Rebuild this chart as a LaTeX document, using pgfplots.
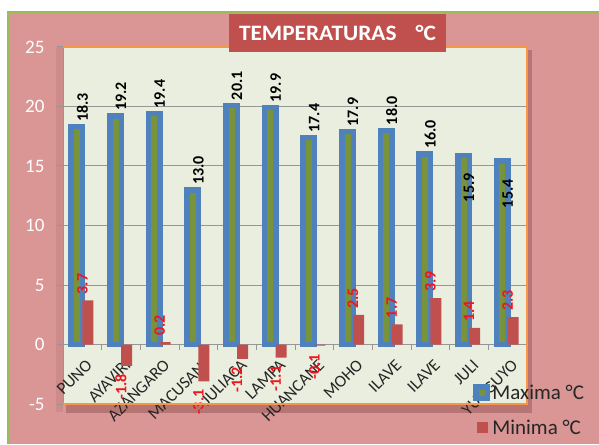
\documentclass[border=0pt]{standalone}
\usepackage{pgfplots}
\pgfplotsset{compat=1.18}
\usepackage{fontspec}
\setmainfont{Carlito}
\definecolor{bgpink}{RGB}{217,150,148}
\definecolor{shadowpink}{RGB}{182,117,116}
\definecolor{bandpink}{RGB}{205,139,138}
\definecolor{plotbg}{RGB}{234,238,222}
\definecolor{barblue}{RGB}{79,129,189}
\definecolor{barolive}{RGB}{119,147,60}
\definecolor{barred}{RGB}{192,80,77}
\definecolor{titlered}{RGB}{192,80,77}
\definecolor{frameorange}{RGB}{247,150,70}
\definecolor{gridgray}{RGB}{150,150,150}
\definecolor{framegreen}{RGB}{155,187,89}
\definecolor{textdark}{RGB}{38,38,38}
\definecolor{labred}{RGB}{240,20,30}
\begin{document}
\begin{tikzpicture}
\useasboundingbox (0pt,0pt) rectangle (599pt,444pt);
\fill[white] (0pt,0pt) rectangle (599pt,444pt);
\fill[bgpink] (8pt,0pt) rectangle (599pt,432pt);
\draw[framegreen, line width=1.2pt] (8pt,0pt) -- (8pt,432pt) -- (599pt,432pt);
\fill[shadowpink] (66pt,31pt) rectangle (532pt,394pt);
\fill[bandpink] (56pt,32pt) rectangle (63pt,397pt);
\begin{axis}[
  at={(63pt,40pt)}, anchor=south west,
  scale only axis, width=464pt, height=357pt,
  xmin=-0.5, xmax=11.5, ymin=-5, ymax=25,
  clip=false,
  axis background/.style={fill=plotbg},
  axis x line*=middle, axis y line*=left,
  hide obscured x ticks=false, hide obscured y ticks=false,
  axis line style={draw=gridgray, line width=1pt},
  xtick={0,...,11},
  xticklabels={PUNO,AYAVIRI,AZANGARO,MACUSANI,JULIACA,LAMPA,HUANCANE,MOHO,ILAVE,ILAVE,JULI,YUNGUYO},
  minor xtick={-0.5,0.5,...,11.5},
  every major x tick/.style={draw=none},
  every minor x tick/.style={draw=gridgray, line width=1pt},
  minor tick length=5pt,
  ytick={-5,0,...,25},
  every major y tick/.style={draw=gridgray, line width=1pt},
  major tick length=6pt,
  tick align=outside,
  ymajorgrids,
  grid style={draw=gridgray, line width=1pt},
  xticklabel style={xshift=3pt, yshift=-3pt, rotate=45, anchor=north east, font=\fontsize{17}{20}\selectfont, text=textdark},
  yticklabel style={font=\fontsize{19}{22}\selectfont, text=white, xshift=-9pt},
  /pgf/number format/assume math mode=true,
  legend cell align=left,
  legend style={draw=none, fill=none, at={(rel axis cs:0.884,0.06)}, anchor=north west,
    font=\fontsize{21}{24}\selectfont, text=textdark, row sep=15pt, inner sep=0pt},
  after end axis/.code={
    \draw[frameorange, line width=1.5pt] (rel axis cs:0,1) -- (rel axis cs:1,1) -- (rel axis cs:1,0) -- (rel axis cs:0,0);
  },
]
% Maxima bars
\addplot[ybar, bar width=11.5pt, bar shift=-5.5pt, fill=barolive, draw=barblue, line width=5.5pt,
  legend image code/.code={\draw[fill=barolive, draw=barblue, line width=5.5pt] (2.75pt,-5.75pt) rectangle (14.25pt,5.75pt);}]
  coordinates {(0,18.3)(1,19.2)(2,19.4)(3,13.0)(4,20.1)(5,19.9)(6,17.4)(7,17.9)(8,18.0)(9,16.0)(10,15.9)(11,15.4)};
\addlegendentry{Maxima °C}
% Minima bars
\addplot[ybar, bar width=11pt, bar shift=5.5pt, fill=barred, draw=none,
  legend image code/.code={\fill[barred] (3.5pt,-5.5pt) rectangle (14.5pt,5.5pt);}]
  coordinates {(0,3.7)(1,-1.8)(2,0.2)(3,-3.1)(4,-1.2)(5,-1.1)(6,-0.1)(7,2.5)(8,1.7)(9,3.9)(10,1.4)(11,2.3)};
\addlegendentry{Minima °C}
% labels: maxima above
\addplot[ybar, bar width=11.5pt, bar shift=-4pt, draw=none, fill=none, forget plot,
  nodes near coords={\pgfmathprintnumber[fixed,fixed zerofill,precision=1]{\pgfplotspointmeta}},
  every node near coord/.append style={yshift=3pt, rotate=90, anchor=west, text=black, font=\bfseries\fontsize{16}{19}\selectfont, inner sep=2pt}]
  coordinates {(0,18.3)(1,19.2)(2,19.4)(3,13.0)(4,20.1)(5,19.9)(6,17.4)(7,17.9)(8,18.0)(9,16.0)};
% labels: maxima inside
\addplot[ybar, bar width=11.5pt, bar shift=-4pt, draw=none, fill=none, forget plot,
  nodes near coords={\pgfmathprintnumber[fixed,fixed zerofill,precision=1]{\pgfplotspointmeta}},
  every node near coord/.append style={yshift=-16pt, rotate=90, anchor=east, text=black, font=\bfseries\fontsize{16}{19}\selectfont, inner sep=2pt}]
  coordinates {(10,15.9)(11,15.4)};
% labels: minima positive
\addplot[ybar, bar width=11pt, bar shift=7.5pt, draw=none, fill=none, forget plot,
  nodes near coords={\pgfmathprintnumber[fixed,fixed zerofill,precision=1]{\pgfplotspointmeta}},
  every node near coord/.append style={yshift=4pt, rotate=90, anchor=west, text=labred, font=\bfseries\fontsize{16}{19}\selectfont, inner sep=2pt}]
  coordinates {(0,3.7)(2,0.2)(7,2.5)(8,1.7)(9,3.9)(10,1.4)(11,2.3)};
% labels: minima negative
\addplot[ybar, bar width=11pt, bar shift=7.5pt, draw=none, fill=none, forget plot,
  nodes near coords={\pgfmathprintnumber[fixed,fixed zerofill,precision=1]{\pgfplotspointmeta}},
  every node near coord/.append style={yshift=-6pt, rotate=90, anchor=east, text=labred, font=\bfseries\fontsize{16}{19}\selectfont, inner sep=2pt}]
  coordinates {(1,-1.8)(3,-3.1)(4,-1.2)(5,-1.1)(6,-0.1)};
\end{axis}
\node[fill=titlered, text=white, font=\bfseries\fontsize{22}{26}\selectfont, minimum width=217pt, minimum height=38pt, inner sep=0pt] at (337.5pt,411pt) {\scalebox{1.06}[1]{TEMPERATURAS\hspace{18pt}°C}};
\end{tikzpicture}
\end{document}
